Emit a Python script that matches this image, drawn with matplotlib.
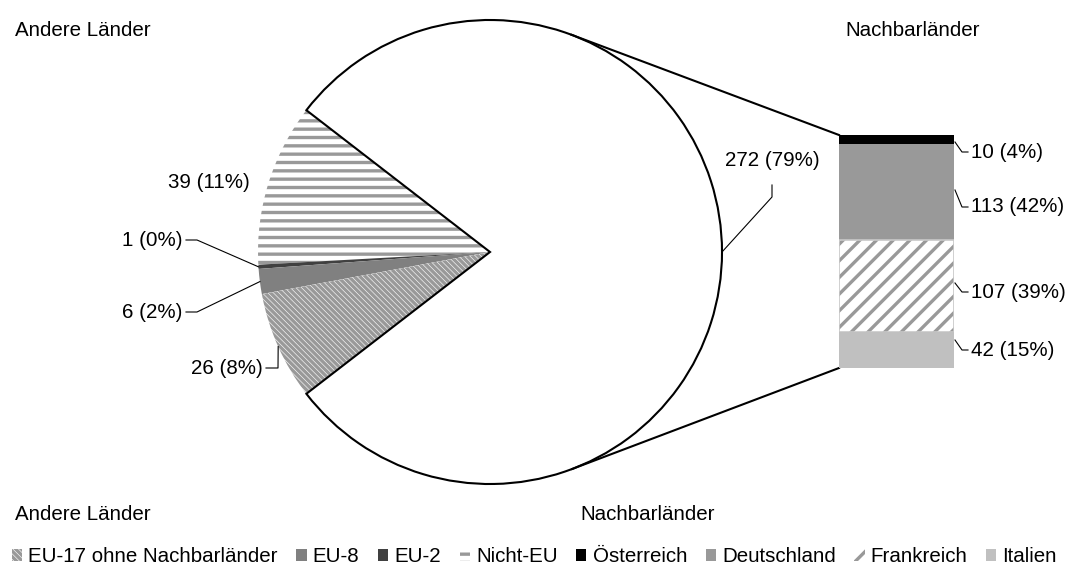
import numpy as np
import matplotlib.pyplot as plt
from matplotlib.patches import Patch

plt.rcParams['font.family'] = ['Liberation Sans', 'DejaVu Sans']
plt.rcParams['hatch.linewidth'] = 2.4
FS = 14.8

W, H = 1069, 570

# pie: other countries + neighbours combined (last slice)
pie_names = ['Nicht-EU', 'EU-2', 'EU-8', 'EU-17 ohne Nachbarländer', 'Nachbarländer']
pie_values = [39, 1, 6, 26, 272]
pie_colors = ['white', '#404040', '#808080', 'white', 'white']
pie_hatch = ['--', None, None, '\\\\\\\\\\\\', None]

# bar: neighbour countries, top to bottom
bar_names = ['Österreich', 'Deutschland', 'Frankreich', 'Italien']
bar_values = [10, 113, 107, 42]
bar_colors = ['black', '#999999', 'white', '#c0c0c0']
bar_hatch = [None, None, '//', None]

HATCH_GRAY = '#999999'

fig = plt.figure(figsize=(W / 100, H / 100), dpi=100)
ax = fig.add_axes([0, 0, 1, 1])

def Y(y):
    # image row -> data y
    return H - y

cx, cy, r = 490, Y(252), 232
total = sum(pie_values)
others = sum(pie_values[:-1])
start = 180 - others / total * 360 / 2

wedges, _ = ax.pie(pie_values, colors=pie_colors, startangle=start,
                   center=(cx, cy), radius=r, frame=True)
for w, h in zip(wedges, pie_hatch):
    if h:
        w.set_hatch(h)
        w.set_edgecolor(HATCH_GRAY)
    w.set_linewidth(0)
wedges[-1].set_edgecolor('black')
wedges[-1].set_linewidth(1.5)

ax.set_xlim(0, W)
ax.set_ylim(0, H)
ax.axis('off')

def pct(v, s):
    return '%d (%d%%)' % (v, round(v / s * 100))

def arc_point(w):
    a = np.deg2rad((w.theta1 + w.theta2) / 2)
    return cx + r * np.cos(a), cy + r * np.sin(a)

# pie labels: (text right x, text y, elbow points)
pie_lab = [
    (250, 182, None),
    (182, 240, [(186, 240), (197, 240)]),
    (182, 312, [(186, 312), (197, 312)]),
    (263, 368, [(266, 368), (278, 368)]),
]
for w, v, (tx, ty, elbow) in zip(wedges, pie_values, pie_lab):
    ax.text(tx, Y(ty), pct(v, total), ha='right', va='center', fontsize=FS)
    if elbow:
        px, py = arc_point(w)
        xs = [p[0] for p in elbow] + [px]
        ys = [Y(p[1]) for p in elbow] + [py]
        ax.plot(xs, ys, color='black', lw=0.8)

ax.text(725, Y(160), pct(pie_values[-1], total), ha='left', va='center', fontsize=FS)
px, py = arc_point(wedges[-1])
ax.plot([772, 772, px], [Y(185), Y(197), py], color='black', lw=0.8)

# bar of neighbours
bx0, bx1, by0, by1 = 839, 954, 135, 368
bax = fig.add_axes([bx0 / W, Y(by1) / H, (bx1 - bx0) / W, (by1 - by0) / H])
btotal = sum(bar_values)
bottom = btotal
for name, v, c, h in zip(bar_names, bar_values, bar_colors, bar_hatch):
    bottom -= v
    if h:
        bax.bar(0, v, bottom=bottom, width=1, color=c, hatch=h,
                edgecolor=HATCH_GRAY, linewidth=0)
        bax.bar(0, v, bottom=bottom, width=1, fill=False,
                edgecolor='#c8c8c8', linewidth=1.2)
    else:
        bax.bar(0, v, bottom=bottom, width=1, color=c, linewidth=0)
bax.set_xlim(-0.5, 0.5)
bax.set_ylim(0, btotal)
bax.axis('off')

# bar labels: (anchor y on bar edge, text y)
bar_lab = [(142, 152), (190, 207), (283, 292), (340, 350)]
for v, (ay, ty) in zip(bar_values, bar_lab):
    ax.plot([bx1 + 1, 962, 968], [Y(ay), Y(ty), Y(ty)], color='black', lw=0.8)
    ax.text(971, Y(ty), pct(v, btotal), ha='left', va='center', fontsize=FS)

# connector lines, tangent to the pie
def tangent(p, upper):
    dx, dy = p[0] - cx, p[1] - cy
    d = np.hypot(dx, dy)
    a = np.arctan2(dy, dx) + (1 if upper else -1) * np.arccos(r / d)
    return cx + r * np.cos(a), cy + r * np.sin(a)

inv = ax.transData.inverted()
top = inv.transform(bax.transData.transform((-0.5, btotal)))
bot = inv.transform(bax.transData.transform((-0.5, 0)))
for p, up in [(top, True), (bot, False)]:
    t = tangent(p, up)
    ax.plot([t[0], p[0]], [t[1], p[1]], color='black', lw=1.5)

# section titles
ax.text(15, Y(30), 'Andere Länder', va='center', fontsize=FS)
ax.text(845, Y(30), 'Nachbarländer', va='center', fontsize=FS)
ax.text(15, Y(515), 'Andere Länder', va='center', fontsize=FS)
ax.text(580, Y(515), 'Nachbarländer', va='center', fontsize=FS)

# legend
leg_names = [pie_names[3], pie_names[2], pie_names[1], pie_names[0]] + bar_names
leg_colors = [pie_colors[3], pie_colors[2], pie_colors[1], pie_colors[0]] + bar_colors
leg_hatch = [pie_hatch[3], pie_hatch[2], pie_hatch[1], pie_hatch[0]] + bar_hatch
handles = [Patch(facecolor=c, hatch=h, edgecolor=HATCH_GRAY if h else c, linewidth=0)
           for c, h in zip(leg_colors, leg_hatch)]
fig.legend(handles, leg_names, loc='center', bbox_to_anchor=(0.5, Y(557) / H),
           ncol=8, frameon=False, fontsize=FS, handlelength=0.5, handleheight=0.5,
           handletextpad=0.3, columnspacing=0.9, borderaxespad=0)

fig.savefig('out.png', dpi=100)
